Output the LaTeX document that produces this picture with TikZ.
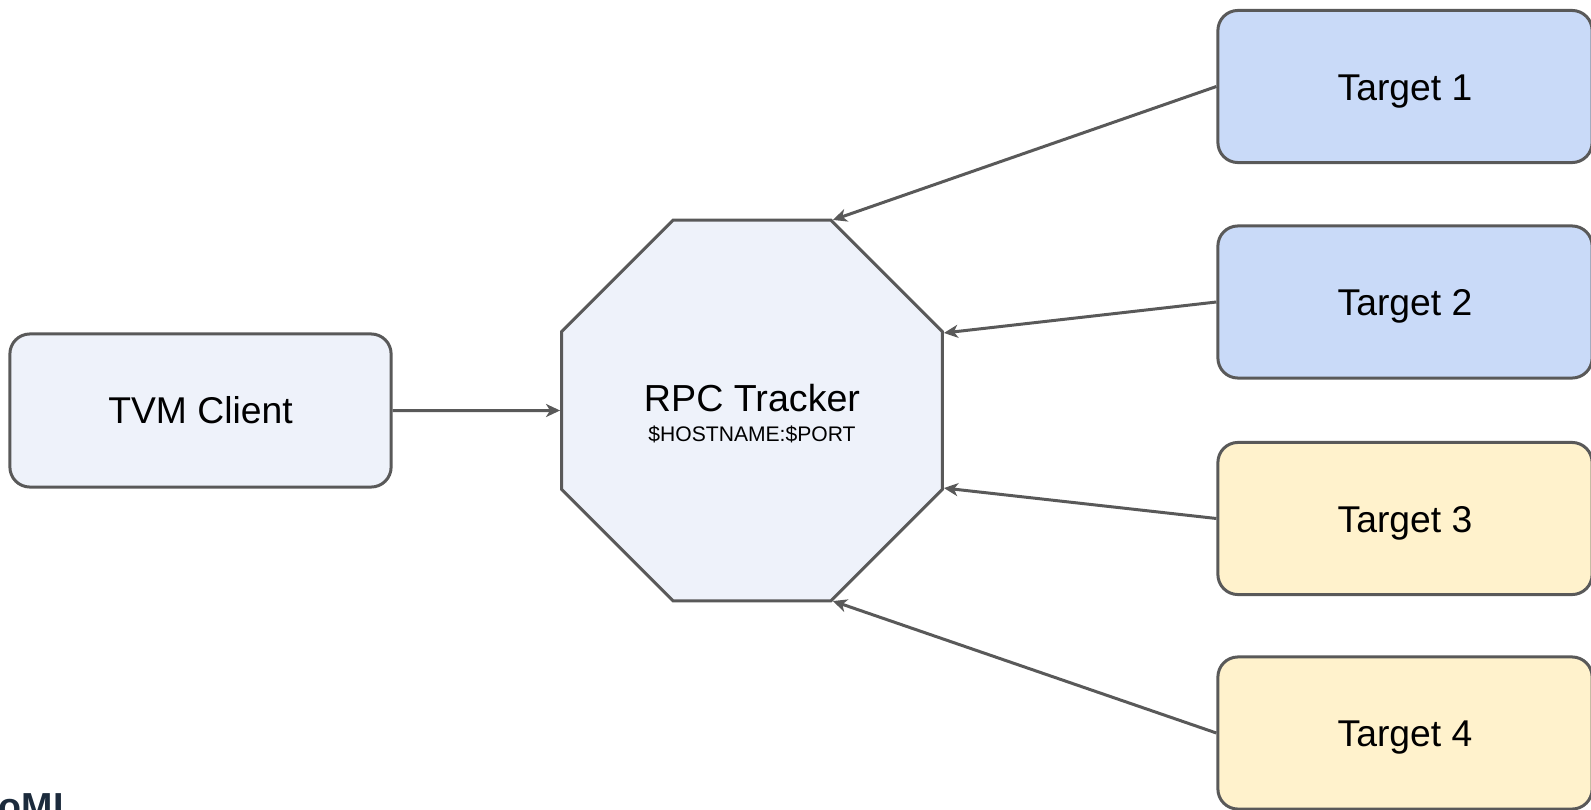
\documentclass[tikz,border=0pt]{standalone}
\usepackage{fontspec}
\setmainfont{Liberation Sans}
\usetikzlibrary{positioning,arrows.meta,shapes.geometric}

\definecolor{edgegray}{HTML}{595959}
\definecolor{paleblue}{HTML}{EEF2FA}
\definecolor{tblue}{HTML}{C9DAF8}
\definecolor{tyellow}{HTML}{FFF2CC}
\definecolor{logonavy}{HTML}{1C2B3C}

\tikzset{
  box/.style={draw=edgegray, line width=0.03cm, rounded corners=0.2cm,
    minimum width=3.74cm, minimum height=1.52cm, text height=7.7pt, text depth=0pt,
    font=\fontsize{10.6}{12}\selectfont},
  link/.style={draw=edgegray, line width=0.03cm,
    -{Stealth[length=0.14cm, width=0.13cm, inset=0.04cm]}},
}

\begin{document}
\begin{tikzpicture}[x=0.01cm, y=-0.01cm]
  \useasboundingbox (0,0) rectangle (1591,809);

  % Client and tracker
  \node[box, fill=paleblue, minimum width=3.81cm, minimum height=1.53cm, text height=7.5pt] (client) at (200.5,410.5) {TVM Client};
  \node[draw=edgegray, line width=0.03cm, fill=paleblue, regular polygon, regular polygon sides=8,
    minimum size=4.12cm, inner sep=0pt, align=center, text height=17.4pt, text depth=0pt,
    font=\fontsize{10.7}{12}\selectfont]
    (tracker) at (752,410.5) {RPC Tracker\\[-3.7pt]{\fontsize{6}{7}\selectfont\$HOSTNAME:\$PORT}};

  % Targets
  \foreach \i/\ypos/\col in {1/86.5/tblue, 2/302/tblue, 3/518.5/tyellow, 4/733/tyellow}
    \node[box, fill=\col] (t\i) at (1405,\ypos) {Target \i};

  % Links
  \draw[link] (client.east) -- (tracker.west);
  \foreach \i/\a in {1/67.5, 2/22.5, 3/-22.5, 4/-67.5}
    \draw[link] (t\i.west) -- (tracker.\a);

  % Logo (cut off by the page)
  \node[anchor=base west, inner sep=0pt, text=logonavy, font=\bfseries\fontsize{10.7}{12}\selectfont]
    (logo) at (-2,819) {oML};
\end{tikzpicture}
\end{document}
